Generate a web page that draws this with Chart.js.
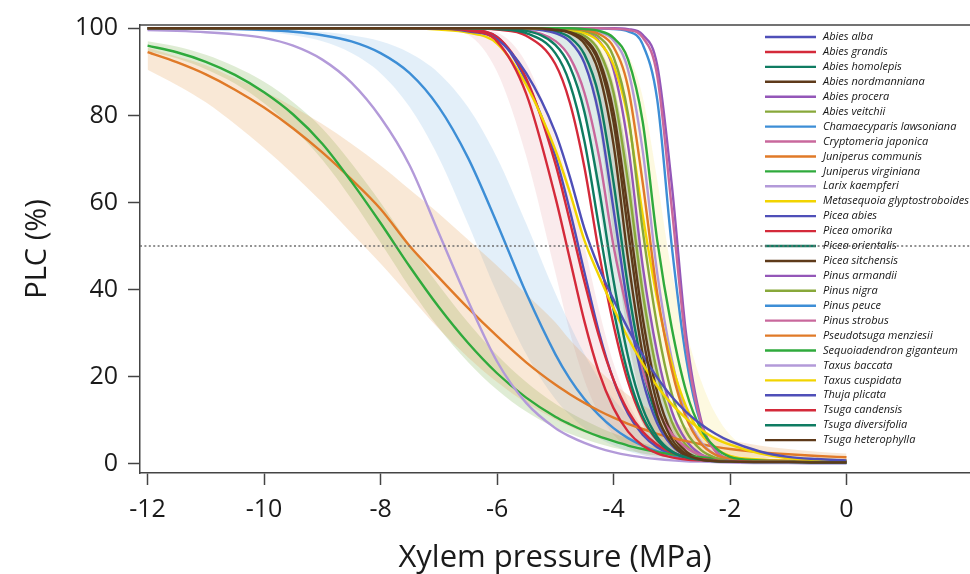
<!DOCTYPE html>
<html>
<head>
<meta charset="utf-8">
<script src="https://cdn.jsdelivr.net/npm/chart.js@4.4.1/dist/chart.umd.min.js"></script>
<style>
  html, body { margin: 0; padding: 0; background: #fff; }
  #wrap { width: 970px; height: 574px; position: relative; }
</style>
</head>
<body>
<div id="wrap"><canvas id="plcChart"></canvas></div>
<script>
// xylem pressure grid (MPa) shared by every curve
const pressure = [-12, -11.5, -11, -10.5, -10, -9.5, -9, -8.5, -8, -7.5, -7, -6.5, -6, -5.5, -5,
  -4.75, -4.5, -4.25, -4, -3.75, -3.5, -3.25, -3, -2.75, -2.5, -2.25, -2, -1.5, -1, -0.5, 0];
const xTicks = [-12, -10, -8, -6, -4, -2, 0];
const yTicks = [0, 20, 40, 60, 80, 100];
const halfLoss = 50;

const speciesNames = ["Abies alba", "Abies grandis", "Abies homolepis", "Abies nordmanniana", "Abies procera",
  "Abies veitchii", "Chamaecyparis lawsoniana", "Cryptomeria japonica", "Juniperus communis",
  "Juniperus virginiana", "Larix kaempferi", "Metasequoia glyptostroboides", "Picea abies", "Picea omorika",
  "Picea orientalis", "Picea sitchensis", "Pinus armandii", "Pinus nigra", "Pinus peuce", "Pinus strobus",
  "Pseudotsuga menziesii", "Sequoiadendron giganteum", "Taxus baccata", "Taxus cuspidata", "Thuja plicata",
  "Tsuga candensis", "Tsuga diversifolia", "Tsuga heterophylla"];

// PLC (%) at each pressure
const abiesAlba = [100,100,100,100,100,100,100,100,100,100,100,99.6,98,87.9,70.7,58.2,44,30.2,19.2,11.5,6.7,3.8,2.1,1.3,0.9,0.7,0.6,0.5,0.4,0.4,0.3];
const abiesGrandis = [100,100,100,100,100,100,100,100,100,100,100,100,99.7,98.3,91.8,82.9,68.1,48.5,31.9,18.8,10.3,5.4,2.8,1.5,1.0,0.8,0.7,0.6,0.5,0.5,0.4];
const abiesHomolepis = [100,100,100,100,100,100,100,100,100,100,100,100,100,99.9,99.3,97.9,94,84.3,64.6,40.5,22.1,10.5,4.7,2.0,1.0,0.6,0.5,0.4,0.3,0.3,0.3];
const abiesNordmanniana = [100,100,100,100,100,100,100,100,100,100,100,100,100,100,99.8,99.2,97.6,92.9,80.8,57.9,33.6,16.4,7.0,2.8,1.2,0.7,0.5,0.4,0.4,0.3,0.3];
const abiesProcera = [100,100,100,100,100,100,100,100,100,100,100,100,100,100,99.9,99.8,99.1,97.1,90.5,73.1,45.5,25.4,12.1,5.3,2.2,1.0,0.6,0.4,0.4,0.3,0.3];
const abiesVeitchii = [100,100,100,100,100,100,100,100,100,100,100,100,100,100,99.9,99.4,98.3,94.8,85.2,64.6,39.4,20.9,9.7,4.2,1.7,0.9,0.6,0.5,0.4,0.4,0.3];
const chamaecyparis = [100,99.9,99.9,99.8,99.6,99.2,98.4,97,94.3,89.7,81.9,70.3,55.2,39.2,25.2,19.5,14.9,11.2,8.2,5.9,4.2,2.9,2.0,1.5,1.1,0.8,0.6,0.4,0.3,0.2,0.2];
const cryptomeria = [100,100,100,100,100,100,100,100,100,100,100,100,99.9,99.5,97.1,93.3,85.2,70.6,50,34.3,21.4,12.5,6.9,3.7,2.0,1.2,0.9,0.7,0.6,0.5,0.5];
const juniperusCommunis = [94.5,92.2,89.4,85.9,81.8,77,71.5,65.3,58.5,50,42.8,35.8,29.3,23.3,18.2,16,14,12.2,10.6,9.2,8,6.9,6.0,5.2,4.5,3.9,3.4,2.7,2.2,1.8,1.5];
const juniperusVirginiana = [96,94.5,92.3,89.3,85.3,80.2,73.5,64.8,55.3,45.3,36,27.8,20.8,15.2,10.8,9.1,7.6,6.3,5.2,4.2,3.4,2.7,2.2,1.8,1.5,1.2,1.0,0.8,0.6,0.5,0.4];
const larixKaempferi = [100,100,100,100,100,100,100,100,100,100,100,100,100,100,100,100,99.8,99.2,97.2,90.4,71.9,43.8,24,11.4,5,2.1,1.0,0.5,0.4,0.3,0.3];
const metasequoia = [100,100,100,100,100,100,100,100,100,100,100,100,100,100,99.9,99.6,98.9,96.9,91.6,79.3,57.2,37.8,23.1,13,6.9,3.6,1.8,1.0,0.7,0.6,0.5];
const piceaAbies = [100,100,100,100,100,100,100,100,100,100,100,100,100,99.9,98.9,97,92,80,58.4,35.9,19.3,9.3,4.2,1.8,1.0,0.7,0.5,0.4,0.3,0.3,0.3];
const piceaOmorika = [100,100,100,100,100,100,100,100,100,100,100,99.7,98,88.5,69,55.7,41.8,29.3,19.3,12.1,7.4,4.4,2.6,1.6,1.1,0.8,0.7,0.6,0.5,0.5,0.4];
const piceaOrientalis = [100,100,100,100,100,100,100,100,100,100,100,100,99.8,98.9,94.3,87.3,74.1,54.4,35.4,20.6,10.9,5.5,2.7,1.4,0.9,0.7,0.6,0.5,0.5,0.4,0.4];
const piceaSitchensis = [100,100,100,100,100,100,100,100,100,100,100,100,100,100,99.6,98.9,96.5,89.7,73.3,47,25.2,11.2,4.6,1.8,0.9,0.6,0.5,0.4,0.4,0.3,0.3];
const pinusArmandii = [100,100,100,100,100,100,100,100,100,100,100,100,100,100,100,100,100,100,100,99.8,98.5,91.5,64.1,29.3,10.2,3,1.0,0.6,0.5,0.4,0.4];
const pinusNigra = [100,100,100,100,100,100,100,100,100,100,100,100,100,100,100,99.8,99.4,98,93.4,80.2,53.7,31.6,16.1,7.4,3.2,1.4,0.8,0.5,0.4,0.4,0.3];
const pinusPeuce = [100,100,100,100,100,100,100,100,100,100,100,100,100,100,100,100,100,100,99.8,99.3,96.3,83.6,50,24,9.1,3.1,1.0,0.6,0.5,0.4,0.4];
const pinusStrobus = [100,100,100,100,100,100,100,100,100,100,100,100,100,100,100,100,100,100,99.9,99.6,97.9,89.1,58.7,26.9,9.5,2.9,1.2,0.7,0.6,0.5,0.5];
const pseudotsuga = [100,100,100,100,100,100,100,100,100,100,100,100,100,100,100,99.9,99.6,98.7,95.7,86.4,64.6,39.2,21.6,10.5,4.7,2.1,1.2,0.8,0.7,0.6,0.6];
const sequoiadendron = [100,100,100,100,100,100,100,100,100,100,100,100,100,100,100,100,99.8,99.4,97.8,92.8,78.6,51.3,31.2,16.5,8,3.7,1.6,0.8,0.6,0.5,0.5];
const taxusBaccata = [99.6,99.4,99.1,98.6,97.8,96,92.8,87.5,79.5,68.5,53,37.5,23.5,14,8.2,6.3,4.8,3.6,2.7,2.0,1.5,1.1,0.8,0.6,0.5,0.4,0.3,0.2,0.2,0.1,0.1];
const taxusCuspidata = [100,100,100,100,100,100,100,100,100,100,99.7,99,96.5,87,72.1,62.3,51.3,43.2,35.7,28.9,23,17.8,13.7,10.4,7.9,5.8,4.4,2.4,1.3,1.0,0.8];
const thujaPlicata = [100,100,100,100,100,100,100,100,100,100,100,99.3,97.5,89.7,76.1,65.9,54,45,37.7,31,25,19.8,15.4,11.9,9.1,6.9,5.2,2.9,1.6,1.1,0.8];
const tsugaCanadensis = [100,100,100,100,100,100,100,100,100,100,99.9,99.5,97,85,61.3,47,32.7,21,12.8,7.4,4.2,2.4,1.5,1.0,0.8,0.7,0.6,0.5,0.5,0.4,0.4];
const tsugaDiversifolia = [100,100,100,100,100,100,100,100,100,100,100,100,99.9,99.4,96.2,91.2,80.8,63.2,42.1,24.6,12.8,6.2,2.9,1.5,0.9,0.6,0.5,0.4,0.4,0.3,0.3];
const tsugaHeterophylla = [100,100,100,100,100,100,100,100,100,100,100,100,100,100,99.7,99.1,97.3,92,78.4,53.5,29.7,13.8,5.7,2.2,1.0,0.6,0.5,0.4,0.4,0.3,0.3];

// confidence bands (upper / lower PLC)
const junComUpper = [95.5,93.5,91.5,88.5,85.5,82,78,73.5,68.5,63,57.5,51.5,45.5,39,32.5,28.5,25,21.5,18.5,15.8,13.5,11.5,9.8,8.4,7.2,6.2,5.4,4.2,3.4,2.8,2.4];
const junComLower = [90.5,87,83,78,72.5,66.5,60,53,46,38.5,31,24.5,18.8,14,10.2,8.6,7.2,6.1,5.2,4.5,3.9,3.4,3.0,2.6,2.3,2.0,1.8,1.4,1.1,0.8,0.6];
const junVirUpper = [97,95.8,93.9,91.2,87.7,83,77,69,60,50.3,41,32.5,25,18.8,13.8,11.8,10,8.4,7,5.8,4.8,3.9,3.2,2.7,2.3,1.9,1.6,1.2,0.9,0.7,0.6];
const junVirLower = [94.8,93.1,90.6,87.3,82.8,77,69.8,60.8,50.8,40.5,31.2,23.4,17,12,8.3,6.9,5.7,4.6,3.7,3.0,2.4,1.9,1.5,1.2,1.0,0.8,0.7,0.5,0.4,0.3,0.2];
const chamUpper = [100,100,99.9,99.9,99.8,99.6,99.2,98.4,97,94.3,89.7,81.9,70.3,55.2,39.2,32,25.2,19.5,14.9,11.2,8.2,5.9,4.2,2.9,2.0,1.5,1.1,0.6,0.4,0.3,0.2];
const chamLower = [99.9,99.9,99.8,99.6,99.2,98.4,97,94.3,89.7,81.9,70.3,55.2,39.2,25.2,14.9,11.2,8.2,5.9,4.2,2.9,2.0,1.5,1.1,0.8,0.6,0.5,0.4,0.3,0.2,0.2,0.2];
const tsugaCanUpper = [100,100,100,100,100,100,100,100,100,100,100,99.9,99,92,75,63.4,50,35.4,23.1,14.2,8.3,4.7,2.7,1.6,1.1,0.9,0.8,0.6,0.6,0.5,0.5];
const tsugaCanLower = [100,100,100,100,100,100,100,100,100,100,99.7,98.5,90,70.7,44,30.2,19.2,11.5,6.7,3.8,2.1,1.3,0.9,0.7,0.6,0.5,0.5,0.4,0.4,0.3,0.3];
const homolepisUpper = [100,100,100,100,100,100,100,100,100,100,100,100,100,100,100,99.4,98.3,95.1,86.9,69.4,44.8,25.2,12.4,5.5,2.4,1.1,0.7,0.5,0.4,0.4,0.3];
const homolepisLower = [100,100,100,100,100,100,100,100,100,100,100,100,100,99.7,97.4,92.7,81.2,59.6,36.4,19.2,9,3.9,1.7,0.8,0.5,0.4,0.3,0.3,0.2,0.2,0.2];
const sitchUpper = [100,100,100,100,100,100,100,100,100,100,100,100,100,100,99.9,99.6,98.6,95.6,87.3,68.6,42.3,21.6,9.4,3.8,1.5,0.8,0.6,0.5,0.4,0.4,0.3];
const sitchLower = [100,100,100,100,100,100,100,100,100,100,100,100,100,100,99.1,97.2,91.6,77.6,52.3,28.9,13.4,5.5,2.1,0.9,0.5,0.4,0.3,0.3,0.2,0.2,0.2];
const metaUpper = [100,100,100,100,100,100,100,100,100,100,100,100,100,100,100,99.9,99.7,99.2,97.8,93.9,84.3,65.2,44,30.2,19.2,11.5,6.7,2.1,1.0,0.8,0.7];
const metaLower = [100,100,100,100,100,100,100,100,100,100,100,100,100,100,99.5,98.5,95.9,89.1,74.1,50,32.1,18.2,9.5,4.7,2.3,1.2,0.7,0.5,0.4,0.4,0.3];

const curves = [abiesAlba, abiesGrandis, abiesHomolepis, abiesNordmanniana, abiesProcera, abiesVeitchii,
  chamaecyparis, cryptomeria, juniperusCommunis, juniperusVirginiana, larixKaempferi, metasequoia,
  piceaAbies, piceaOmorika, piceaOrientalis, piceaSitchensis, pinusArmandii, pinusNigra, pinusPeuce,
  pinusStrobus, pseudotsuga, sequoiadendron, taxusBaccata, taxusCuspidata, thujaPlicata,
  tsugaCanadensis, tsugaDiversifolia, tsugaHeterophylla];

const palette = ["#4f4fb8", "#d42a3a", "#0f7c62", "#5e3a1a", "#9457b8", "#88a83a",
  "#3d8ed6", "#c9689c", "#e07a28", "#2faa3c", "#b39ad9", "#f2d400"];

const bands = [
  { upper: junComUpper, lower: junComLower, fill: "rgba(228,150,70,0.22)" },
  { upper: junVirUpper, lower: junVirLower, fill: "rgba(110,170,60,0.22)" },
  { upper: chamUpper, lower: chamLower, fill: "rgba(90,160,220,0.17)" },
  { upper: tsugaCanUpper, lower: tsugaCanLower, fill: "rgba(210,90,100,0.12)" },
  { upper: homolepisUpper, lower: homolepisLower, fill: "rgba(20,120,100,0.14)" },
  { upper: sitchUpper, lower: sitchLower, fill: "rgba(110,70,30,0.14)" },
  { upper: metaUpper, lower: metaLower, fill: "rgba(240,215,60,0.16)" }
];

const toPoints = arr => arr.map((v, i) => ({ x: pressure[i], y: v }));

const datasets = [];
curves.forEach((c, i) => {
  datasets.push({
    label: speciesNames[i],
    data: toPoints(c),
    borderColor: palette[i % 12],
    borderWidth: 2.4,
    pointRadius: 0,
    fill: false,
    cubicInterpolationMode: "monotone",
    order: 100 - i
  });
});
bands.forEach(b => {
  datasets.push({ data: toPoints(b.upper), borderWidth: 0, borderColor: "transparent",
    pointRadius: 0, fill: false, cubicInterpolationMode: "monotone", order: 300 });
  datasets.push({ data: toPoints(b.lower), borderWidth: 0, borderColor: "transparent",
    pointRadius: 0, fill: "-1", backgroundColor: b.fill, cubicInterpolationMode: "monotone", order: 300 });
});
// 50 % PLC reference line
datasets.push({
  data: [{ x: -12.13, y: halfLoss }, { x: 2.12, y: halfLoss }],
  borderColor: "#6e6e6e", borderWidth: 1.6, borderDash: [2, 2.4], pointRadius: 0, fill: false, order: 0
});

const legendPlugin = {
  id: "speciesLegend",
  beforeDatasetsDraw(chart) {
    const ctx = chart.ctx;
    ctx.save();
    ctx.font = 'italic 11px "Open Sans"';
    ctx.textBaseline = "middle";
    speciesNames.forEach((name, i) => {
      const y = 37 + i * 14.93;
      ctx.strokeStyle = palette[i % 12];
      ctx.lineWidth = 2.4;
      ctx.beginPath();
      ctx.moveTo(765, y);
      ctx.lineTo(816, y);
      ctx.stroke();
      ctx.fillStyle = "#151515";
      ctx.fillText(name, 823, y);
    });
    ctx.restore();
  }
};

const framePlugin = {
  id: "topFrame",
  afterDraw(chart) {
    const { ctx, chartArea } = chart;
    ctx.save();
    ctx.strokeStyle = "#444";
    ctx.lineWidth = 1.5;
    ctx.beginPath();
    ctx.moveTo(chartArea.left, chartArea.top);
    ctx.lineTo(chartArea.right, chartArea.top);
    ctx.stroke();
    ctx.restore();
  }
};

new Chart(document.getElementById("plcChart"), {
  type: "line",
  data: { datasets },
  options: {
    responsive: true,
    maintainAspectRatio: false,
    animation: false,
    events: [],
    layout: { padding: { top: 22, right: 0, left: 0, bottom: 0 } },
    plugins: {
      legend: { display: false },
      tooltip: { enabled: false },
      filler: { propagate: false, drawTime: "beforeDatasetsDraw" }
    },
    scales: {
      x: {
        type: "linear",
        min: -12.13,
        max: 2.12,
        afterBuildTicks: a => { a.ticks = xTicks.map(v => ({ value: v })); },
        afterFit: a => { a.height = 101; },
        grid: { drawOnChartArea: false, drawTicks: true, tickLength: 12, tickWidth: 1.5, tickColor: "#444" },
        border: { display: true, color: "#444", width: 1.5 },
        ticks: { font: { family: "Open Sans", size: 25 }, color: "#1a1a1a", padding: 10, maxRotation: 0, autoSkip: false },
        title: { display: true, text: "Xylem pressure (MPa)", font: { family: "Open Sans", size: 31, lineHeight: 0.74 }, color: "#1a1a1a" }
      },
      y: {
        min: -2.1,
        max: 100.75,
        afterBuildTicks: a => { a.ticks = yTicks.map(v => ({ value: v })); },
        afterFit: a => { a.width = 140; },
        grid: { drawOnChartArea: false, drawTicks: true, tickLength: 12, tickWidth: 1.5, tickColor: "#444" },
        border: { display: true, color: "#444", width: 1.5 },
        ticks: { font: { family: "Open Sans", size: 25 }, color: "#1a1a1a", padding: 10 },
        title: { display: true, text: "PLC (%)", font: { family: "Open Sans", size: 29, lineHeight: 2.3 }, color: "#1a1a1a" }
      }
    }
  },
  plugins: [legendPlugin, framePlugin]
});
</script>
</body>
</html>
